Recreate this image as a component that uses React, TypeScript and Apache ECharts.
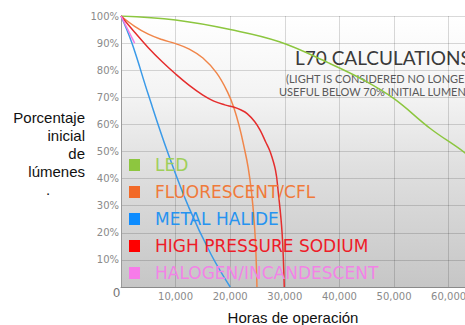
import React, { useEffect, useRef } from "react";
import * as echarts from "echarts";

// Hours of operation vs. % initial lumens
const ledData: [number, number][] = [
  [0, 100], [10000, 98.5], [20000, 95], [29000, 90.5], [38000, 82.7],
  [44500, 76.3], [50000, 69.5], [56700, 58.4], [63000, 49.5], [66000, 44],
];
const fluorescentData: [number, number][] = [
  [0, 100], [2500, 96.2], [5000, 93.3], [7500, 91.3], [10000, 89.8], [12500, 87.8],
  [15000, 84.5], [17500, 79], [19500, 72], [20700, 66], [21700, 59], [22500, 52],
  [23300, 44], [23900, 35], [24400, 24], [24700, 13], [24900, 0],
];
const metalHalideData: [number, number][] = [
  [0, 100], [2000, 90], [5000, 71], [8500, 50], [12500, 29], [16500, 12], [20000, 0],
];
const sodiumData: [number, number][] = [
  [0, 100], [2500, 94], [5000, 88.3], [7500, 83.2], [10000, 78.6], [12500, 74.4],
  [15000, 70.8], [17000, 68.6], [19000, 67.2], [20600, 66.4], [22000, 65.3], [23100, 64],
  [24500, 61], [25500, 57.8], [26500, 53.5], [27300, 50], [28300, 43], [28800, 35],
  [29500, 20], [29900, 0],
];
const halogenData: [number, number][] = [[0, 100], [2500, 90]];

const seriesNames = ["LED", "FLUORESCENT/CFL", "METAL HALIDE", "HIGH PRESSURE SODIUM", "HALOGEN/INCANDESCENT"];
const seriesData = [ledData, fluorescentData, metalHalideData, sodiumData, halogenData];
const lineColors = ["#8cc63f", "#f0864a", "#3a9ae8", "#e52d2d", "#f27de4"];
const squareColors = ["#8dc63f", "#f26a28", "#0d8cff", "#ff0000", "#f77be9"];
const textColors = ["#9fcf5a", "#f07a3a", "#2693f0", "#ee1c28", "#f283e6"];

const xTicks = { min: 0, max: 63000, interval: 10000 };
const yTicks = { min: 0, max: 100, interval: 10 };

const yAxisTitle = "Porcentaje\ninicial\nde\nlúmenes";
const xAxisTitle = "Horas de operación";
const calloutTitle = "L70 CALCULATIONS";
const calloutLine1 = "(LIGHT IS CONSIDERED NO LONGER";
const calloutLine2 = "USEFUL BELOW 70% INITIAL LUMENS";

export default function App() {
  const ref = useRef<HTMLDivElement>(null);
  useEffect(() => {
    document.body.style.margin = "0";
    if (!ref.current) return;
    const chart = echarts.init(ref.current, undefined, { renderer: "svg" });
    const option: any = {
      animation: false,
      backgroundColor: "#ffffff",
      grid: {
        left: 121, right: 0, top: 16, bottom: 38, show: true, borderWidth: 0,
        containLabel: false, outerBoundsMode: "none",
        backgroundColor: {
          type: "linear", x: 0, y: 0, x2: 0, y2: 1,
          colorStops: [
            { offset: 0, color: "#ffffff" },
            { offset: 0.3, color: "#f3f3f3" },
            { offset: 0.55, color: "#e0e0e0" },
            { offset: 1, color: "#c6c6c6" },
          ],
        },
      },
      xAxis: {
        type: "value", min: xTicks.min, max: xTicks.max, interval: xTicks.interval,
        axisLine: { show: true, lineStyle: { color: "#8a8a8a", width: 1 } },
        axisTick: { show: false },
        splitLine: { show: true, lineStyle: { color: "rgba(0,0,0,0.15)", width: 1 } },
        axisLabel: {
          margin: 4, color: "#8a8a8a", fontFamily: "DejaVu Sans", fontSize: 10,
          formatter: (v: number) => (v === 0 ? "{z|0}" : v % 10000 !== 0 ? "" : v.toLocaleString("en-US")),
          rich: { z: { fontFamily: "DejaVu Sans", fontSize: 12, lineHeight: 4, color: "#777777", padding: [0, 9, 0, 0] } },
        },
        name: xAxisTitle, nameLocation: "middle", nameGap: 23,
        nameTextStyle: { fontFamily: "Liberation Sans", fontSize: 15, color: "#111111" },
      },
      yAxis: {
        type: "value", min: yTicks.min, max: yTicks.max, interval: yTicks.interval,
        axisLine: { show: true, lineStyle: { color: "#9a9a9a", width: 1 } },
        axisTick: { show: false },
        splitLine: { show: true, lineStyle: { color: "rgba(0,0,0,0.15)", width: 1 } },
        axisLabel: {
          margin: 2, color: "#8a8a8a", fontFamily: "DejaVu Sans", fontSize: 10,
          formatter: (v: number) => (v === 0 ? "" : v + "%"),
        },
      },
      legend: {
        orient: "vertical", left: 129, top: 156.5, padding: 0, itemWidth: 11, itemHeight: 12, itemGap: 10,
        icon: "rect", selectedMode: false,
        textStyle: { fontFamily: "DejaVu Sans", fontSize: 17, padding: [0, 0, 0, 10] },
        data: seriesNames.map((n, i) => ({
          name: n, itemStyle: { color: squareColors[i] }, textStyle: { color: textColors[i] },
        })),
      },
      graphic: [
        {
          type: "text", x: 295, y: 57, silent: true,
          style: { text: calloutTitle, fontFamily: "Lato", fontSize: 19, fill: "#3a3a3a", verticalAlign: "middle", align: "left" },
        },
        {
          type: "text", x: 286, y: 78, silent: true,
          style: { text: calloutLine1, fontFamily: "Lato", fontSize: 11, fill: "#5a5a5a", verticalAlign: "middle", align: "left" },
        },
        {
          type: "text", x: 279, y: 91, silent: true,
          style: { text: calloutLine2, fontFamily: "Lato", fontSize: 11, fill: "#5a5a5a", verticalAlign: "middle", align: "left" },
        },
        {
          type: "text", x: 85, y: 144.5, silent: true,
          style: { text: yAxisTitle, fontFamily: "Liberation Sans", fontSize: 15, lineHeight: 18, fill: "#111111", verticalAlign: "middle", align: "right" },
        },
        {
          type: "text", x: 48, y: 189.5, silent: true,
          style: { text: ".", fontFamily: "Liberation Sans", fontSize: 15, fill: "#111111", verticalAlign: "middle", align: "center" },
        },
      ],
      series: seriesNames.map((n, i) => ({
        type: "line", name: n, data: seriesData[i], symbol: "none", showSymbol: false,
        smooth: i === 4 ? false : 0.4,
        lineStyle: { width: 1.5, color: lineColors[i] }, itemStyle: { color: squareColors[i] },
        z: 2,
      })),
    };
    chart.setOption(option);
    return () => chart.dispose();
  }, []);
  return <div ref={ref} style={{ width: 465, height: 325 }} />;
}
